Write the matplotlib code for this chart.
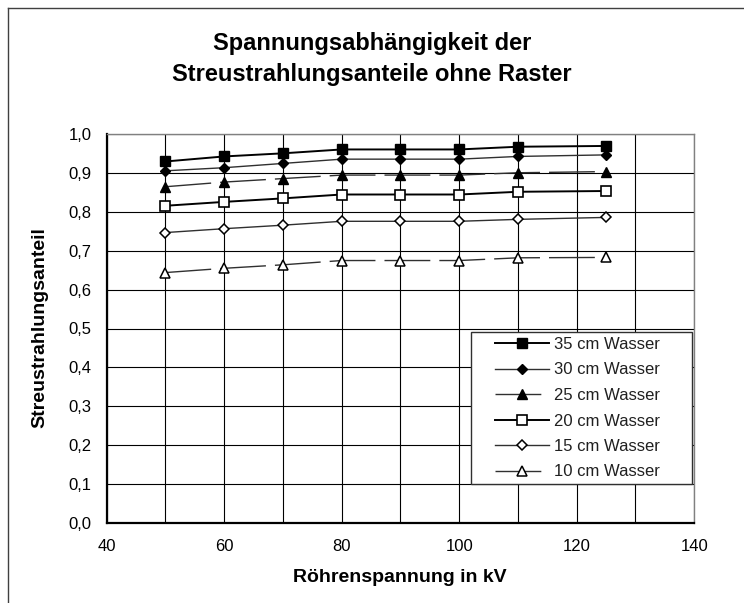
import numpy as np
import matplotlib
matplotlib.use('Agg')
import matplotlib.pyplot as plt
from matplotlib.lines import Line2D
from matplotlib.patches import Rectangle
from matplotlib.ticker import MultipleLocator, FuncFormatter

plt.rcParams['font.family'] = ['Liberation Sans', 'DejaVu Sans']

# data
kv = [50, 60, 70, 80, 90, 100, 110, 125]
labels = ['35 cm Wasser', '30 cm Wasser', '25 cm Wasser',
          '20 cm Wasser', '15 cm Wasser', '10 cm Wasser']
w35 = [0.930, 0.943, 0.951, 0.961, 0.961, 0.961, 0.968, 0.970]
w30 = [0.906, 0.914, 0.925, 0.936, 0.936, 0.936, 0.943, 0.947]
w25 = [0.865, 0.877, 0.886, 0.895, 0.895, 0.895, 0.901, 0.904]
w20 = [0.816, 0.826, 0.835, 0.845, 0.845, 0.845, 0.852, 0.854]
w15 = [0.747, 0.757, 0.766, 0.776, 0.776, 0.776, 0.781, 0.786]
w10 = [0.644, 0.655, 0.664, 0.675, 0.675, 0.675, 0.682, 0.683]
series = [w35, w30, w25, w20, w15, w10]

# styles per series
styles = [
    dict(marker='s', ms=7.5, mfc='black', color='black', lw=1.4),
    dict(marker='D', ms=5.5, mfc='black', color='#303030', lw=1.0),
    dict(marker='^', ms=7.0, mfc='black', color='#303030', lw=1.0, dashes=(33, 6.5)),
    dict(marker='s', ms=6.5, mfc='white', color='black', lw=1.4, mew=1.2),
    dict(marker='D', ms=5.0, mfc='white', color='#303030', lw=1.0, mew=1.1),
    dict(marker='^', ms=6.5, mfc='white', color='#303030', lw=1.0, mew=1.1, dashes=(33, 6.5)),
]

W, H = 744, 603
fig = plt.figure(figsize=(W / 100, H / 100), dpi=100)
ax = fig.add_axes([106.7 / W, 1 - 522.7 / H, 587.5 / W, 388.4 / H])

handles = []
for vals, lab, st in zip(series, labels, styles):
    h, = ax.plot(kv, vals, label=lab, mec='black', zorder=3, **st)
    handles.append(h)

ax.set_xlim(40, 140)
ax.set_ylim(0, 1.0)
ax.xaxis.set_major_locator(MultipleLocator(20))
ax.xaxis.set_minor_locator(MultipleLocator(10))
ax.yaxis.set_major_locator(MultipleLocator(0.1))
ax.yaxis.set_major_formatter(FuncFormatter(lambda v, p: f'{v:.1f}'.replace('.', ',')))
ax.grid(True, which='both', axis='x', color='black', lw=0.8)
ax.grid(True, which='major', axis='y', color='black', lw=0.8)
ax.set_axisbelow(True)
ax.tick_params(axis='both', which='both', length=0, labelsize=12)
ax.tick_params(axis='x', pad=12)
ax.tick_params(axis='y', pad=11)

for side in ['left', 'bottom']:
    ax.spines[side].set_color('black')
    ax.spines[side].set_linewidth(1.6)
for side in ['top', 'right']:
    ax.spines[side].set_color('#808080')
    ax.spines[side].set_linewidth(1.0)

fig.text(372 / W, 1 - 59 / H, 'Spannungsabhängigkeit der\nStreustrahlungsanteile ohne Raster',
         ha='center', va='center', fontsize=17, fontweight='bold', linespacing=1.4)
fig.text(400 / W, 1 - 577 / H, 'Röhrenspannung in kV', ha='center', va='center',
         fontsize=14, fontweight='bold')
fig.text(40 / W, 1 - 328 / H, 'Streustrahlungsanteil', ha='center', va='center',
         rotation=90, fontsize=14, fontweight='bold')

# legend with a hand drawn box
leg = fig.legend(handles=handles, loc='upper left',
                 bbox_to_anchor=(495 / W, 1 - 337 / H), bbox_transform=fig.transFigure,
                 frameon=False, fontsize=12, handlelength=3.25, handletextpad=0.3,
                 labelspacing=0.63, borderpad=0, borderaxespad=0)
for t in leg.get_texts():
    t.set_color('#202020')
fig.add_artist(Rectangle((470.7 / W, 1 - 484 / H), (692 - 470.7) / W, (484 - 332) / H,
                         transform=fig.transFigure, fill=True, facecolor='white',
                         edgecolor='#303030', lw=1.0, zorder=2.5))
leg.set_zorder(3)

# outer chart frame
fig.add_artist(Line2D([8 / W, 8 / W], [0, 1 - 8 / H], transform=fig.transFigure, color='#404040', lw=1.0))
fig.add_artist(Line2D([8 / W, 1], [1 - 8 / H, 1 - 8 / H], transform=fig.transFigure, color='#404040', lw=1.0))

fig.savefig('out.png', dpi=100)
